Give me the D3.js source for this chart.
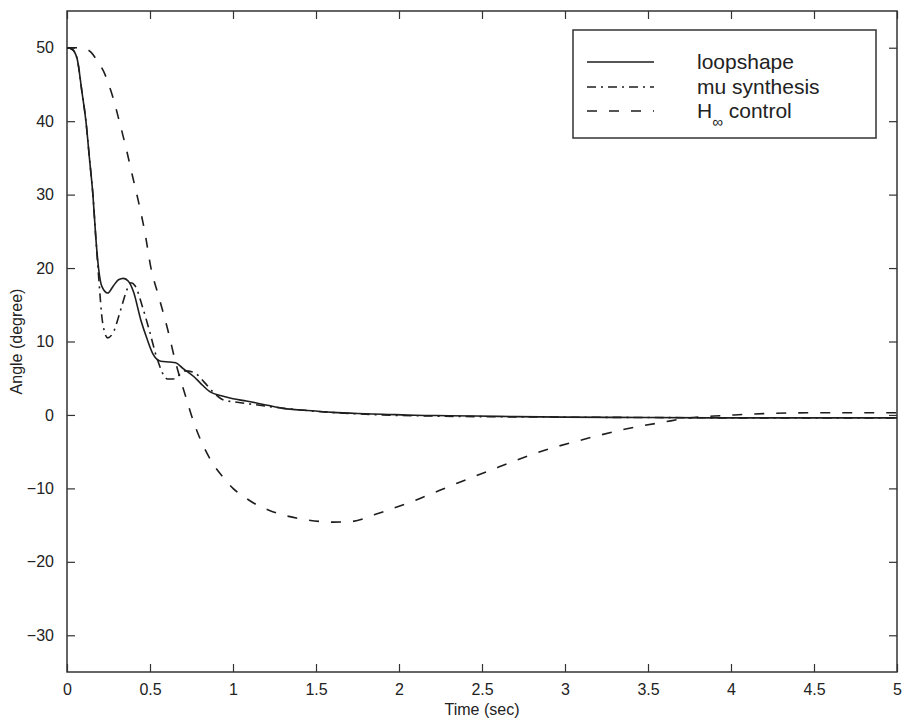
<!DOCTYPE html>
<html>
<head>
<meta charset="utf-8">
<script src="https://cdn.jsdelivr.net/npm/d3@7"></script>
<style>
  body { margin: 0; background: #fff; }
  text { font-family: "Liberation Sans", Arial, sans-serif; fill: #222; }
</style>
</head>
<body>
<script>
//// Constants ///////////////////////////////////////
const WIDTH = 907
const HEIGHT = 725
const margin = { top: 11, right: 10, bottom: 53, left: 67 }

/// Data ///
const xTicks = [0, 0.5, 1, 1.5, 2, 2.5, 3, 3.5, 4, 4.5, 5]
const yTicks = [-30, -20, -10, 0, 10, 20, 30, 40, 50]

const loopT = [0, 0.03, 0.06, 0.09, 0.114, 0.135, 0.156, 0.174, 0.19, 0.21, 0.245, 0.28, 0.31, 0.34, 0.37, 0.40,
    0.445, 0.48, 0.52, 0.565, 0.62, 0.655, 0.70, 0.765, 0.805, 0.865, 0.93, 1.0, 1.08, 1.17, 1.3, 1.45, 1.6,
    1.75, 1.9, 2.1, 2.3, 2.6, 3.0, 3.5, 4.0, 4.5, 5.0]
const loopY = [50, 49.8, 48.6, 44, 40, 35, 30, 24, 20, 17.5, 16.6, 17.6, 18.4, 18.6, 18.2, 16.8,
    12.9, 10.5, 8.2, 7.3, 7.2, 7.1, 6.3, 5.2, 4.3, 3.1, 2.6, 2.2, 1.9, 1.5, 0.9, 0.6, 0.35,
    0.2, 0.1, -0.05, -0.1, -0.2, -0.3, -0.35, -0.4, -0.4, -0.4]

const muT = [0, 0.03, 0.06, 0.09, 0.114, 0.135, 0.156, 0.174, 0.19, 0.215, 0.245, 0.28, 0.31, 0.335, 0.36, 0.385,
    0.41, 0.455, 0.495, 0.545, 0.605, 0.64, 0.665, 0.71, 0.765, 0.825, 0.885, 0.945, 1.0, 1.1, 1.2, 1.35, 1.5,
    1.7, 1.9, 2.2, 2.6, 3.0, 3.5, 4.0, 4.5, 5.0]
const muY = [50, 49.8, 48.6, 44, 40, 35, 30, 24, 19, 12.5, 10.5, 11.3, 13.3, 15.2, 17, 18.0,
    17.6, 14.7, 11.6, 7.5, 4.9, 4.9, 5.2, 6.0, 5.8, 4.5, 3.0, 2.0, 1.8, 1.5, 1.2, 0.8, 0.5,
    0.2, 0.0, -0.15, -0.25, -0.3, -0.35, -0.4, -0.4, -0.4]

const hinfT = [0, 0.05, 0.1, 0.144, 0.18, 0.222, 0.276, 0.315, 0.354, 0.396, 0.433, 0.469, 0.505, 0.553, 0.607,
    0.655, 0.715, 0.765, 0.805, 0.87, 0.945, 1.0, 1.07, 1.14, 1.22, 1.30, 1.45, 1.6, 1.72, 1.85, 2.1, 2.35,
    2.6, 2.85, 3.1, 3.35, 3.6, 3.75, 3.9, 4.02, 4.22, 4.5, 5.0]
const hinfY = [50, 50, 49.9, 49.4, 48.3, 46.7, 43.3, 40.0, 36.5, 32.4, 28.8, 24.9, 20.1, 16.1, 11.6,
    7.1, 2.5, -1.1, -3.4, -6.3, -8.6, -10.0, -11.2, -12.2, -13.0, -13.6, -14.3, -14.6, -14.5, -13.6, -11.6, -9.3,
    -7.1, -5.0, -3.4, -2.0, -0.95, -0.4, -0.15, 0.0, 0.2, 0.3, 0.3]

const seriesNames = ["loopshape", "mu synthesis", "H control"]
const seriesDash = [null, "9,5,2,5", "10,12"]

/// Scales ///
const x = d3.scaleLinear().domain([0, 5]).range([margin.left, WIDTH - margin.right])
const y = d3.scaleLinear().domain([-35, 55]).range([HEIGHT - margin.bottom, margin.top])

const svgSpace = d3.select("body")
    .append("svg")
    .attr("width", WIDTH)
    .attr("height", HEIGHT)

// axes, MATLAB style: ticks pointing in, on all four sides
const tickLen = 8
svgSpace.append("g")
    .attr("transform", `translate(0,${y(-35)})`)
    .call(d3.axisBottom(x).tickValues(xTicks).tickSizeInner(-tickLen).tickSizeOuter(0).tickPadding(12).tickFormat(d3.format("~g")))
svgSpace.append("g")
    .attr("transform", `translate(0,${y(55)})`)
    .call(d3.axisTop(x).tickValues(xTicks).tickSizeInner(-tickLen).tickSizeOuter(0).tickFormat(""))
svgSpace.append("g")
    .attr("transform", `translate(${x(0)},0)`)
    .call(d3.axisLeft(y).tickValues(yTicks).tickSizeInner(-tickLen).tickSizeOuter(0).tickPadding(13))
svgSpace.append("g")
    .attr("transform", `translate(${x(5)},0)`)
    .call(d3.axisRight(y).tickValues(yTicks).tickSizeInner(-tickLen).tickSizeOuter(0).tickFormat(""))

svgSpace.selectAll(".domain").remove()
svgSpace.selectAll(".tick line").attr("stroke", "#333").attr("stroke-width", 1.2)
svgSpace.selectAll(".tick text").attr("font-size", 16).attr("fill", "#222")

svgSpace.append("rect")
    .attr("x", x(0)).attr("y", y(55))
    .attr("width", x(5) - x(0)).attr("height", y(-35) - y(55))
    .attr("fill", "none").attr("stroke", "#333").attr("stroke-width", 1.5)

// labels
svgSpace.append("text")
    .attr("x", x(2.5)).attr("y", 715)
    .attr("text-anchor", "middle").attr("font-size", 16)
    .text("Time (sec)")
svgSpace.append("text")
    .attr("transform", `translate(22,${(y(55) + y(-35)) / 2}) rotate(-90)`)
    .attr("text-anchor", "middle").attr("font-size", 16)
    .text("Angle (degree)")

// curves
const line = d3.line().x(d => x(d[0])).y(d => y(d[1])).curve(d3.curveMonotoneX)
const series = [d3.zip(loopT, loopY), d3.zip(muT, muY), d3.zip(hinfT, hinfY)]

series.forEach((pts, i) => {
    svgSpace.append("path")
        .datum(pts)
        .attr("d", line)
        .attr("fill", "none")
        .attr("stroke", "#1e1e1e")
        .attr("stroke-width", 1.6)
        .attr("stroke-dasharray", seriesDash[i])
})

// legend
const lg = svgSpace.append("g")
lg.append("rect")
    .attr("x", 573).attr("y", 30).attr("width", 303).attr("height", 108)
    .attr("fill", "#fff").attr("stroke", "#333").attr("stroke-width", 1.5)

const rowY = [62, 87, 111]
seriesNames.forEach((name, i) => {
    lg.append("line")
        .attr("x1", 587).attr("x2", 654)
        .attr("y1", rowY[i]).attr("y2", rowY[i])
        .attr("stroke", "#1e1e1e").attr("stroke-width", 1.6)
        .attr("stroke-dasharray", seriesDash[i])
    let t = lg.append("text")
        .attr("x", 697).attr("y", rowY[i] + 7)
        .attr("font-size", 21)
    if (i === 2) {
        t.append("tspan").text("H")
        t.append("tspan").attr("dy", 9).attr("font-size", 15).text("∞")
        t.append("tspan").attr("dy", -9).text(" control")
    } else {
        t.text(name)
    }
})
</script>
</body>
</html>
